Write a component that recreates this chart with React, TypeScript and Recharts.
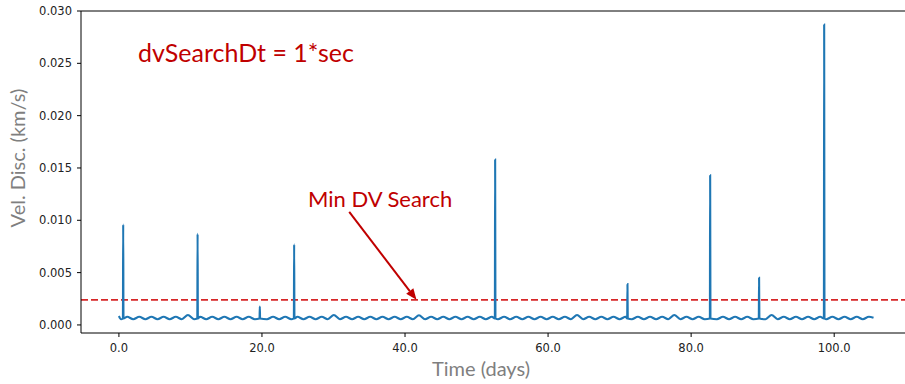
import React from 'react';
import { LineChart, Line, XAxis, YAxis, ReferenceLine } from 'recharts';

// slow wobble of the baseline (crests / troughs), days
const waveTimes = [
  0.0, 0.3, 1.15, 2.0, 2.85, 3.7, 4.55, 5.4, 6.25, 7.1, 7.95, 8.8, 9.65,
  10.5, 11.35, 12.2, 13.05, 13.9, 14.75, 15.6, 16.45, 17.3, 18.15, 19.0,
  20.7, 21.55, 22.4, 23.25, 24.1, 24.95, 25.8, 26.65, 27.5, 28.35, 29.2,
  30.05, 30.9, 31.75, 32.6, 33.45, 34.3, 35.15, 36.0, 36.85, 37.7, 38.55,
  39.4, 40.25, 41.1, 41.95, 42.8, 43.65, 44.5, 45.35, 46.2, 47.05, 47.9,
  48.75, 49.6, 50.45, 51.3, 52.15, 53.0, 53.85, 54.7, 55.55, 56.4, 57.25,
  58.1, 58.95, 59.8, 60.65, 61.5, 62.35, 63.2, 64.05, 64.9, 65.75, 66.6,
  67.45, 68.3, 69.15, 70.0, 70.85, 71.7, 72.55, 73.4, 74.25, 75.1, 75.95,
  76.8, 77.65, 78.5, 79.35, 80.2, 81.05, 81.9, 83.6, 84.45, 85.3, 86.15,
  87.0, 87.85, 88.7, 90.4, 91.25, 92.1, 92.95, 93.8, 94.65, 95.5, 96.35,
  97.2, 98.05, 98.9, 99.75, 100.6, 101.45, 102.3, 103.15, 104.0, 104.85,
  105.5,
];
const waveValues = [
  0.00085, 0.00055, 0.00078, 0.00055, 0.00078, 0.00055, 0.00078, 0.00055, 0.00078, 0.00055, 0.00078, 0.00055, 0.00095,
  0.00055, 0.00078, 0.00055, 0.00078, 0.00055, 0.00078, 0.00055, 0.00078, 0.00055, 0.00078, 0.00055,
  0.00055, 0.00078, 0.00055, 0.00078, 0.00055, 0.00078, 0.00055, 0.00078, 0.00055, 0.00078, 0.00055,
  0.00095, 0.00055, 0.00078, 0.00055, 0.00078, 0.00055, 0.00078, 0.00055, 0.00078, 0.00055, 0.00078,
  0.00055, 0.00078, 0.00055, 0.00092, 0.00055, 0.00078, 0.00055, 0.00078, 0.00055, 0.00078, 0.00055,
  0.00078, 0.00055, 0.00078, 0.00055, 0.00078, 0.00055, 0.00078, 0.00055, 0.00078, 0.00055, 0.00078,
  0.00055, 0.00078, 0.00055, 0.00078, 0.00055, 0.00078, 0.00055, 0.00095, 0.00055, 0.00078, 0.00055,
  0.00078, 0.00055, 0.00078, 0.00055, 0.00078, 0.00055, 0.00078, 0.00055, 0.00078, 0.00055, 0.00078,
  0.00055, 0.00095, 0.00055, 0.00078, 0.00055, 0.00078, 0.00055, 0.00055, 0.00078, 0.00055, 0.00078,
  0.00055, 0.00078, 0.00055, 0.00055, 0.00095, 0.00055, 0.00078, 0.00055, 0.00078, 0.00055, 0.00078,
  0.00055, 0.00078, 0.00055, 0.00078, 0.00055, 0.00078, 0.00055, 0.00078, 0.00055, 0.00078,
  0.00068,
];

// velocity discontinuity spikes (foot, peak, foot)
const spikeTimes = [
  0.56, 0.6, 0.64, 10.96, 11.0, 11.04, 19.66, 19.7, 19.74, 24.46, 24.5, 24.54,
  52.56, 52.6, 52.64, 71.06, 71.1, 71.14, 82.62, 82.66, 82.7, 89.46, 89.5, 89.54,
  98.56, 98.6, 98.64,
];
const spikeValues = [
  0.00062, 0.0096, 0.00062, 0.00062, 0.0087, 0.00062, 0.00062, 0.00175, 0.00062, 0.00062, 0.0077, 0.00062,
  0.00062, 0.0158, 0.00062, 0.00062, 0.0039, 0.00062, 0.00062, 0.0143, 0.00062, 0.00062, 0.0045, 0.00062,
  0.00062, 0.0287, 0.00062,
];

const xTicks = [0, 20, 40, 60, 80, 100];
const yTicks = [0, 0.005, 0.01, 0.015, 0.02, 0.025, 0.03];
const minDvLevel = 0.0024;
const arrowFrom = { x: 32.2, y: 0.0108 };
const arrowTo = { x: 41.6, y: 0.0024 };

const data = [
  ...waveTimes.map((t, i) => ({ t, v: waveValues[i] })),
  ...spikeTimes.map((t, i) => ({ t, v: spikeValues[i] })),
].sort((a, b) => a.t - b.t);

const red = '#c00000';
const tickStyle = { fontFamily: 'DejaVu Sans', fontSize: 11.5, fill: '#222' };

function Arrow(props: any) {
  const { x1, y1, x2, y2 } = props;
  const ang = Math.atan2(y2 - y1, x2 - x1);
  const len = 11;
  const w = 4.5;
  const bx = x2 - len * Math.cos(ang);
  const by = y2 - len * Math.sin(ang);
  const px = -Math.sin(ang) * w;
  const py = Math.cos(ang) * w;
  return (
    <g>
      <line x1={x1} y1={y1} x2={bx} y2={by} stroke={red} strokeWidth={2} />
      <polygon points={`${x2},${y2} ${bx + px},${by + py} ${bx - px},${by - py}`} fill={red} />
    </g>
  );
}

export default function App() {
  return (
    <div style={{ position: 'absolute', left: 0, top: 0, width: 905, height: 384, background: '#fff' }}>
      <LineChart width={905} height={384} data={data} margin={{ top: 11, right: 0, bottom: 0, left: 0 }}>
        <XAxis
          dataKey="t"
          type="number"
          domain={[-5.3, 109.9]}
          ticks={xTicks}
          tickFormatter={(v: number) => v.toFixed(1)}
          allowDataOverflow
          height={51}
          stroke="#000"
          tickSize={4}
          tickMargin={7}
          tick={tickStyle}
        />
        <YAxis
          type="number"
          domain={[-0.00077, 0.03]}
          ticks={yTicks}
          tickFormatter={(v: number) => v.toFixed(3)}
          allowDataOverflow
          width={81}
          stroke="#000"
          tickSize={4}
          tickMargin={5}
          tick={tickStyle}
        />
        <ReferenceLine y={0.03} stroke="#000" strokeWidth={1} ifOverflow="visible" />
        <ReferenceLine y={minDvLevel} stroke="#d62728" strokeWidth={1.6} strokeDasharray="7 3" />
        <Line
          dataKey="v"
          type="monotoneX"
          stroke="#1f77b4"
          strokeWidth={2.1}
          dot={false}
          isAnimationActive={false}
        />
        <ReferenceLine
          segment={[arrowFrom, arrowTo]}
          ifOverflow="visible"
          shape={(p: any) => <Arrow {...p} />}
        />
      </LineChart>
      <div style={{ position: 'absolute', left: 138, top: 40, fontFamily: 'Lato', fontSize: 25, lineHeight: 1, color: red, whiteSpace: 'nowrap' }}>
        dvSearchDt = 1*sec
      </div>
      <div style={{ position: 'absolute', left: 308, top: 188, fontFamily: 'Lato', fontSize: 22, lineHeight: 1, color: red, whiteSpace: 'nowrap' }}>
        Min DV Search
      </div>
      <div style={{ position: 'absolute', left: 17, top: 158, transform: 'translate(-50%, -50%) rotate(-90deg)', fontFamily: 'Lato', fontSize: 20, lineHeight: 1, color: '#7f7f7f', whiteSpace: 'nowrap' }}>
        Vel. Disc. (km/s)
      </div>
      <div style={{ position: 'absolute', left: 481, top: 368, transform: 'translate(-50%, -50%)', fontFamily: 'Lato', fontSize: 20, lineHeight: 1, color: '#7f7f7f', whiteSpace: 'nowrap' }}>
        Time (days)
      </div>
    </div>
  );
}
